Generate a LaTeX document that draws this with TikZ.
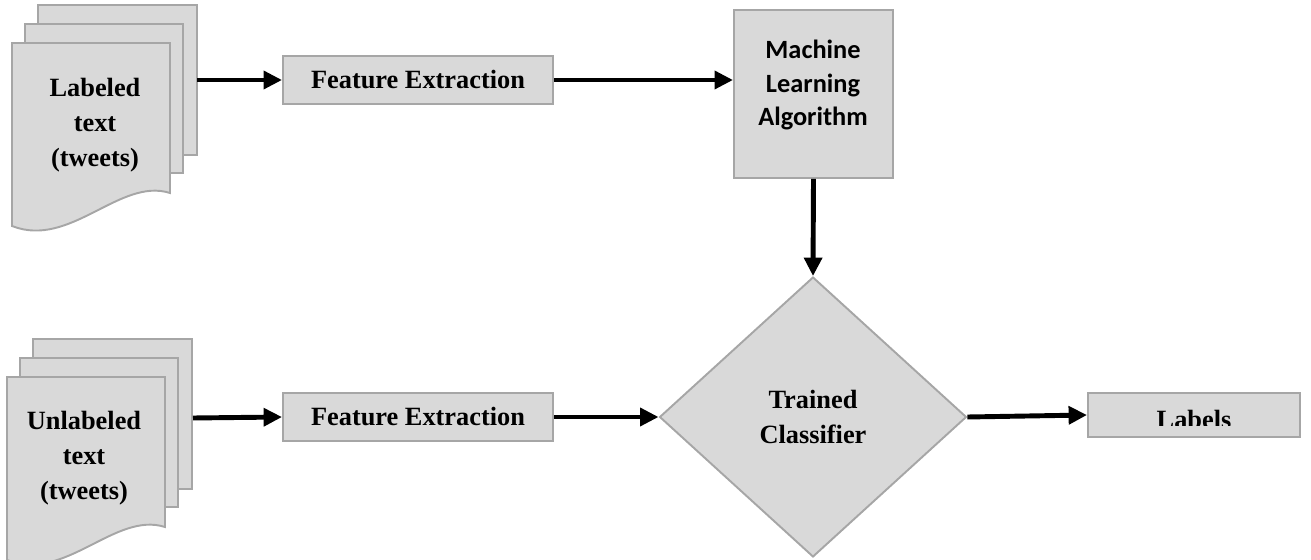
\documentclass[tikz,border=0pt]{standalone}
\usepackage{fontspec}
\setmainfont{Liberation Serif}
\newfontfamily\mlfont{Carlito}
\usetikzlibrary{arrows.meta}
\usetikzlibrary{shapes.geometric}
\usepackage{xcolor}
\definecolor{sheetfill}{HTML}{D9D9D9}
\definecolor{sheetline}{HTML}{A6A6A6}
\tikzset{
  box/.style={draw=sheetline,fill=sheetfill,line width=1.1pt,inner sep=0},
  sheet/.style={draw=sheetline,fill=sheetfill,line width=1.1pt},
  big text/.style={font=\fontsize{15}{20}\selectfont\bfseries,align=center,inner sep=0},
  feat box/.style={box,rectangle,minimum width=5.4cm,minimum height=0.95cm},
  algo box/.style={box,rectangle,minimum width=3.18cm,minimum height=3.36cm},
  out box/.style={box,rectangle,minimum width=4.24cm,minimum height=0.88cm},
  decision/.style={box,diamond,minimum width=6.14cm,minimum height=5.6cm},
  connect arrow/.style={-{Triangle[length=10.5pt,width=10pt]},line width=2.8pt,black}
}

\begin{document}
\begin{tikzpicture}[x=0.02cm,y=-0.02cm]
    \useasboundingbox (0,0) rectangle (1311,560);

    % document stacks
    \foreach \sx/\sy in {12/43, 7/377} {
      \begin{scope}[shift={(\sx,\sy)}]
        \draw[sheet] (26,-38) rectangle (185,112);
        \draw[sheet] (13,-19) rectangle (171,130);
        \draw[sheet] (0,0) -- (158,0) -- (158,150) .. controls (108,134) and (58,206) .. (0,183) -- cycle;
      \end{scope}
    }
    \node[big text] (doc1) at (95,125) {Labeled\\text\\(tweets)};
    \node[big text] (doc2) at (84,458) {Unlabeled\\text\\(tweets)};
    \coordinate (doc1 out) at (197,80);
    \coordinate (doc2 out) at (193,418);

    \node[feat box,big text] (fe1) at (418,80) {Feature Extraction};
    \node[feat box,big text] (fe2) at (418,417) {Feature Extraction};
    \node[algo box] (ml) at (813.5,94) {};
    \node[big text,font=\mlfont\fontsize{15}{19.3}\selectfont\bfseries] (mltext) at (813,85) {Machine\\Learning\\Algorithm};
    \node[decision,big text] (clf) at (813,417) {Trained\\Classifier};
    \node[out box] (labels) at (1194,415) {};
    \begin{scope}
      \clip (1088,393) rectangle (1300,425);
      \node[big text,anchor=base] (labtext) at (1194,428) {Labels};
    \end{scope}

    \draw[connect arrow] (doc1 out) -- (fe1.west);
    \draw[connect arrow] (fe1.east) -- (fe1.east -| ml.west);
    \draw[connect arrow] (ml.south) -- (clf.north);
    \draw[connect arrow] (doc2 out) -- (fe2.west);
    \draw[connect arrow] (fe2.east) -- (clf.west);
    \draw[connect arrow] (clf.east) -- (labels.west);
\end{tikzpicture}
\end{document}
